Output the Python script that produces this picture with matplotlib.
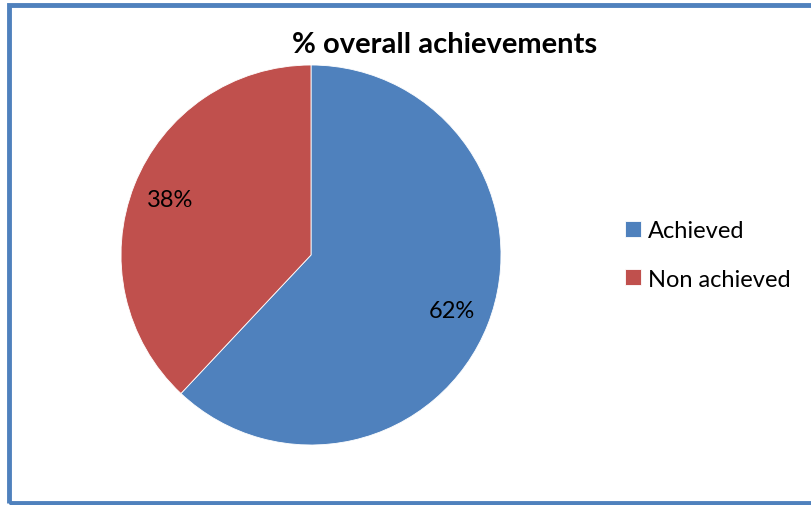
import matplotlib.pyplot as plt
from matplotlib.patches import Rectangle

labels = ['Achieved', 'Non achieved']
values = [62, 38]
colors = ['#4F81BD', '#C0504D']

plt.rcParams['font.family'] = ['Lato', 'DejaVu Sans']

fig = plt.figure(figsize=(8.12, 5.06), dpi=100)
W, H = 812, 506

# chart border (runs off the right edge like the original)
fig.patches.append(Rectangle((9.5 / W, 1 - 504 / H), 820 / W, (504 - 5.5) / H,
                             transform=fig.transFigure, fill=False,
                             edgecolor='#4F81BD', linewidth=3.5))

cx, cy, r = 311, 256, 190
ax = fig.add_axes([(cx - r) / W, (H - cy - r) / H, 2 * r / W, 2 * r / H])
wedges, texts, autotexts = ax.pie(values, colors=colors, startangle=90, counterclock=False,
                                  autopct='%d%%', pctdistance=0.8,
                                  wedgeprops=dict(edgecolor='white', linewidth=0.6),
                                  textprops=dict(fontsize=17, color='black'))
ax.set_xlim(-1, 1)
ax.set_ylim(-1, 1)
ax.set_aspect('equal')

fig.text(445 / W, 1 - 45 / H, '% overall achievements', ha='center', va='center',
         fontsize=21, fontweight='bold')

fig.legend(wedges, labels, loc='center left', bbox_to_anchor=(604 / W, 1 - 256 / H),
           frameon=False, fontsize=17, handlelength=0.65, handleheight=0.65,
           handletextpad=0.3, labelspacing=1.15)

fig.savefig('out.png', dpi=100)
